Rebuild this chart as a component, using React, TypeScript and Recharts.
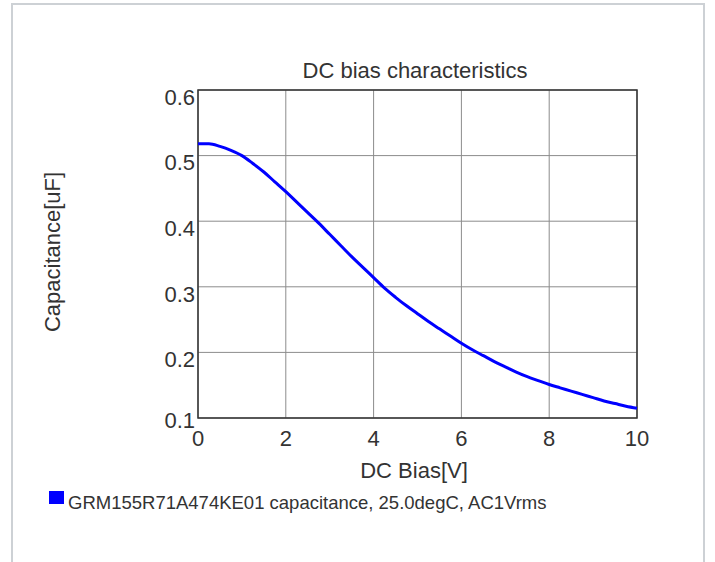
import React from 'react';
import { LineChart, Line, XAxis, YAxis, CartesianGrid, ReferenceArea } from 'recharts';

const biasV = [
  0, 0.25, 0.5, 0.75, 1, 1.25, 1.5, 1.75, 2, 2.25, 2.5, 2.75, 3, 3.25, 3.5, 3.75, 4,
  4.25, 4.5, 4.75, 5, 5.25, 5.5, 5.75, 6, 6.25, 6.5, 6.75, 7, 7.25, 7.5, 7.75, 8,
  8.25, 8.5, 8.75, 9, 9.25, 9.5, 9.75, 10,
];
const capacitanceUF = [
  0.518, 0.518, 0.514, 0.508, 0.5, 0.488, 0.475, 0.46, 0.445, 0.429, 0.413, 0.397, 0.38,
  0.363, 0.346, 0.33, 0.314, 0.298, 0.284, 0.271, 0.259, 0.247, 0.236, 0.225, 0.214,
  0.204, 0.195, 0.186, 0.178, 0.17, 0.163, 0.157, 0.151, 0.146, 0.141, 0.136, 0.131,
  0.126, 0.122, 0.118, 0.115,
];
const xTicks = [0, 2, 4, 6, 8, 10];
const yTicks = [0.1, 0.2, 0.3, 0.4, 0.5, 0.6];

const chartTitle = 'DC bias characteristics';
const xLabel = 'DC Bias[V]';
const yLabel = 'Capacitance[uF]';
const seriesName = 'GRM155R71A474KE01 capacitance, 25.0degC, AC1Vrms';

const data = biasV.map((v, i) => ({ v, c: capacitanceUF[i] }));

const TEXT = '#333';
const FONT = '"Liberation Sans", Arial, sans-serif';

const YTick = (props: any) => {
  const { x, y, payload } = props;
  const dy = payload.value <= 0.1 ? 2 : 7;
  return (
    <text x={x} y={y + dy} dy="0.355em" textAnchor="end" fontSize={22} fill={TEXT} fontFamily={FONT}>
      {Number(payload.value).toFixed(1)}
    </text>
  );
};

const XTick = (props: any) => {
  const { x, y, payload } = props;
  return (
    <text x={x} y={y} dy="0.71em" textAnchor="middle" fontSize={22} fill={TEXT} fontFamily={FONT}>
      {payload.value}
    </text>
  );
};

export default function App() {
  return (
    <div
      style={{
        position: 'absolute',
        left: 0,
        top: 0,
        width: 715,
        height: 562,
        overflow: 'hidden',
        background: '#fff',
        fontFamily: FONT,
      }}
    >
      <div
        style={{
          position: 'absolute',
          left: 11,
          top: 3,
          width: 694,
          height: 600,
          border: '2px solid #cdd1d5',
          boxSizing: 'border-box',
        }}
      />
      <div style={{ position: 'absolute', left: 0, top: 0 }}>
        <LineChart
          width={715}
          height={562}
          data={data}
          margin={{ top: 90, right: 78, left: 138, bottom: 104 }}
        >
          <CartesianGrid stroke="#8c8c8c" strokeWidth={1} />
          <XAxis
            dataKey="v"
            type="number"
            domain={[0, 10]}
            ticks={xTicks}
            height={40}
            tickSize={0}
            tickMargin={12}
            axisLine={false}
            tickLine={false}
            tick={<XTick />}
            interval={0}
          />
          <YAxis
            type="number"
            domain={[0.1, 0.6]}
            ticks={yTicks}
            width={60}
            tickSize={0}
            tickMargin={3}
            axisLine={false}
            tickLine={false}
            tick={<YTick />}
            interval={0}
            allowDataOverflow
          />
          <ReferenceArea
            x1={0}
            x2={10}
            y1={0.1}
            y2={0.6}
            fill="none"
            fillOpacity={0}
            stroke="#333"
            strokeWidth={1.5}
          />
          <Line
            dataKey="c"
            type="monotone"
            stroke="#0000ff"
            strokeWidth={3}
            dot={false}
            isAnimationActive={false}
          />
        </LineChart>
      </div>
      <div
        style={{
          position: 'absolute',
          left: 415,
          top: 71,
          transform: 'translate(-50%, -50%)',
          fontSize: 22,
          lineHeight: 1,
          color: TEXT,
          whiteSpace: 'nowrap',
        }}
      >
        {chartTitle}
      </div>
      <div
        style={{
          position: 'absolute',
          left: 414,
          top: 471,
          transform: 'translate(-50%, -50%)',
          fontSize: 22,
          lineHeight: 1,
          color: TEXT,
          whiteSpace: 'nowrap',
        }}
      >
        {xLabel}
      </div>
      <div
        style={{
          position: 'absolute',
          left: 53,
          top: 252,
          transform: 'translate(-50%, -50%) rotate(-90deg)',
          fontSize: 22,
          lineHeight: 1,
          color: TEXT,
          whiteSpace: 'nowrap',
        }}
      >
        {yLabel}
      </div>
      <div
        style={{
          position: 'absolute',
          left: 49,
          top: 491,
          width: 15,
          height: 13,
          background: '#0000ff',
        }}
      />
      <div
        style={{
          position: 'absolute',
          left: 68,
          top: 503,
          transform: 'translateY(-50%)',
          fontSize: 18.5,
          lineHeight: 1,
          color: TEXT,
          whiteSpace: 'nowrap',
        }}
      >
        {seriesName}
      </div>
    </div>
  );
}
